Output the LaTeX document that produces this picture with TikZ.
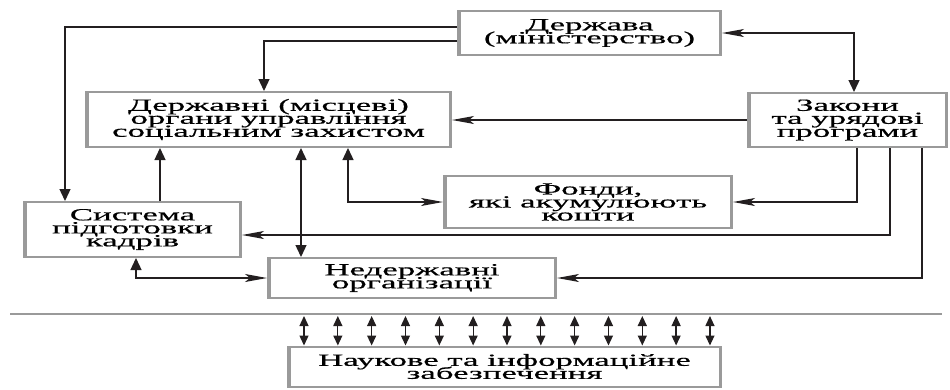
\documentclass[tikz,border=0pt]{standalone}
\usepackage{fontspec}
\newfontfamily\boxfont[FakeStretch=2.05,FakeBold=0.6]{Liberation Serif}
\newcommand\boxtext{\boxfont\fontsize{17}{13}\selectfont\lineskiplimit=-50pt\relax}
\usepackage{tikz}
\usetikzlibrary{arrows.meta,positioning}
\definecolor{frame}{HTML}{9A9A9A}
\definecolor{wire}{HTML}{231F20}
\tikzset{
  box/.style={
    draw=frame, line width=2pt, fill=white,
    path picture={
      \draw[frame, line width=5pt]
        (path picture bounding box.south west) -- (path picture bounding box.north west)
        (path picture bounding box.south east) -- (path picture bounding box.north east);
    },
    font=\boxtext,
    align=center, inner sep=0pt,
  },
  link/.style={line width=1.3pt, draw=wire},
  sepline/.style={line width=1.8pt, draw=frame},
  Barb/.tip={Stealth[length=22pt,width=8pt,inset=5pt]},
  Tri/.tip={Triangle[length=12pt,width=11pt]},
  Tri2/.tip={Triangle[length=10pt,width=9pt]},
}

\begin{document}
\begin{tikzpicture}[x=1pt,y=-1pt]
  \useasboundingbox (0,0) rectangle (950,389);

  \node[box, minimum width=263pt, minimum height=44pt] (state) at (589.5,33)
    {Держава\\(міністерство)};

  \node[box, minimum width=365pt, minimum height=55pt] (organs) at (268.5,119.5)
    {Державні (місцеві)\\органи управління\\соціальним захистом};

  \node[box, minimum width=199pt, minimum height=54pt] (laws) at (847.5,120)
    {Закони\\та урядові\\програми};

  \node[box, minimum width=288pt, minimum height=52pt] (funds) at (588,202)
    {Фонди,\\які акумулюють\\кошти};

  \node[box, minimum width=217pt, minimum height=55pt] (training) at (132.5,229.5)
    {Система\\підготовки\\кадрів};

  \node[box, minimum width=288pt, minimum height=40pt] (ngo) at (412,278)
    {Недержавні\\організації};

  \node[box, minimum width=433pt, minimum height=40pt] (science) at (504.5,366.5)
    {Наукове та інформаційне\\забезпечення};

  \draw[link,-Tri] ([yshift=6pt]state.west) -| ([xshift=-67.5pt]training.north);
  \draw[link,-Tri] ([yshift=-8pt]state.west) -| ([xshift=-4.5pt]organs.north);
  \draw[link,Barb-Tri] (state.east) -| ([xshift=6.5pt]laws.north);
  \draw[link,-Barb] (laws.west) -- (laws.west -| organs.east);

  \draw[link,-Barb] ([xshift=9.5pt]laws.south) |- (funds.east);
  \draw[link,-Barb] ([xshift=42.5pt]laws.south) |- ([yshift=-5.5pt]training.east);
  \draw[link,-Barb] ([xshift=74.5pt]laws.south) |- (ngo.east);

  \coordinate (t1) at ([xshift=27.5pt]training.north);
  \draw[link,-Tri] (t1) -- (t1 |- organs.south);
  \coordinate (o1) at ([xshift=32.5pt]organs.south);
  \draw[link,Tri-Tri] (o1) -- (o1 |- ngo.north);
  \draw[link,Tri-Barb] ([xshift=79.5pt]organs.south) |- (funds.west);
  \draw[link,Tri-Barb] ([xshift=3.5pt]training.south) |- (ngo.west);

  \coordinate (sepL) at (10,314);
  \coordinate (sepR) at (942,314);
  \draw[sepline] (sepL) -- (sepR);
  \foreach \i in {0,...,12} {
    \coordinate (s\i) at (304+33.83*\i,316);
    \draw[link,Tri2-Tri2] (s\i) -- (s\i |- science.north);
  }

\end{tikzpicture}
\end{document}
